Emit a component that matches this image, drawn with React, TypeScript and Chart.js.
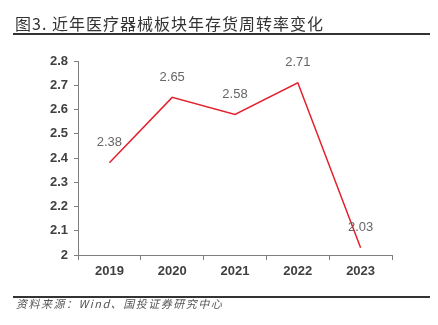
import React, { useEffect, useRef } from "react";
import { Chart, registerables } from "chart.js";

Chart.register(...registerables);

const categories = ["2019", "2020", "2021", "2022", "2023"];
const turnover = [2.38, 2.65, 2.58, 2.71, 2.03];
const yTicks = ["2", "2.1", "2.2", "2.3", "2.4", "2.5", "2.6", "2.7", "2.8"];
const title = "图3. 近年医疗器械板块年存货周转率变化";
const source = "资料来源：Wind、国投证券研究中心";

const labelPlugin = {
  id: "valueLabels",
  afterDatasetsDraw(chart: any) {
    const ctx = chart.ctx;
    const meta = chart.getDatasetMeta(0);
    ctx.save();
    ctx.font = '13px "Liberation Sans", Arial, sans-serif';
    ctx.fillStyle = "#666666";
    ctx.textAlign = "center";
    ctx.textBaseline = "middle";
    meta.data.forEach((pt: any, i: number) => {
      ctx.fillText(turnover[i].toFixed(2), pt.x, pt.y - 20);
    });
    ctx.restore();
  },
};

export default function App() {
  const ref = useRef<HTMLCanvasElement>(null);
  useEffect(() => {
    document.body.style.margin = "0";
    const chart = new Chart(ref.current!, {
      type: "line",
      data: {
        labels: categories,
        datasets: [
          {
            data: turnover,
            borderColor: "#E3202B",
            borderWidth: 1.5,
            pointRadius: 0,
            tension: 0,
          },
        ],
      },
      options: {
        animation: false,
        responsive: false,
        layout: { padding: { top: 61, right: 46, left: 0, bottom: 0 } },
        plugins: { legend: { display: false }, tooltip: { enabled: false } },
        scales: {
          x: {
            offset: true,
            grid: {
              display: true,
              drawOnChartArea: false,
              offset: true,
              tickLength: 5,
              color: "#7f7f7f",
            },
            border: { color: "#7f7f7f", width: 1 },
            ticks: {
              color: "#404040",
              font: { family: '"Liberation Sans", Arial, sans-serif', size: 13, weight: "bold" },
              padding: 4,
            },
            afterFit: (s: any) => {
              s.height = 70;
            },
          },
          y: {
            min: 2,
            max: 2.8,
            grid: { display: true, drawOnChartArea: false, tickLength: 4, color: "#7f7f7f" },
            border: { color: "#7f7f7f", width: 1 },
            ticks: {
              stepSize: 0.1,
              color: "#404040",
              font: { family: '"Liberation Sans", Arial, sans-serif', size: 13, weight: "bold" },
              padding: 6,
              callback: (_v: any, i: number) => yTicks[i],
            },
            afterFit: (s: any) => {
              s.width = 78;
            },
          },
        },
      },
      plugins: [labelPlugin],
    });
    return () => chart.destroy();
  }, []);

  return (
    <div style={{ position: "relative", width: 438, height: 325, background: "#fff", overflow: "hidden" }}>
      <canvas ref={ref} width={438} height={325} style={{ position: "absolute", left: 0, top: 0 }} />
      <div
        style={{
          position: "absolute",
          left: 15,
          top: 13,
          fontFamily: '"Noto Sans CJK SC", sans-serif',
          fontSize: 16,
          lineHeight: "20px",
          letterSpacing: 1,
          color: "#333",
          whiteSpace: "nowrap",
          fontWeight: 400,
        }}
      >
        {title}
      </div>
      <div style={{ position: "absolute", left: 13, top: 33, width: 417, height: 2, background: "#333" }} />
      <div style={{ position: "absolute", left: 13, top: 296, width: 417, height: 1.5, background: "#333" }} />
      <div
        style={{
          position: "absolute",
          left: 16,
          top: 296,
          fontFamily: '"Noto Sans CJK SC", sans-serif',
          fontSize: 11,
          lineHeight: "15px",
          letterSpacing: 1.5,
          fontStyle: "italic",
          color: "#555",
          whiteSpace: "nowrap",
        }}
      >
        {source}
      </div>
    </div>
  );
}
